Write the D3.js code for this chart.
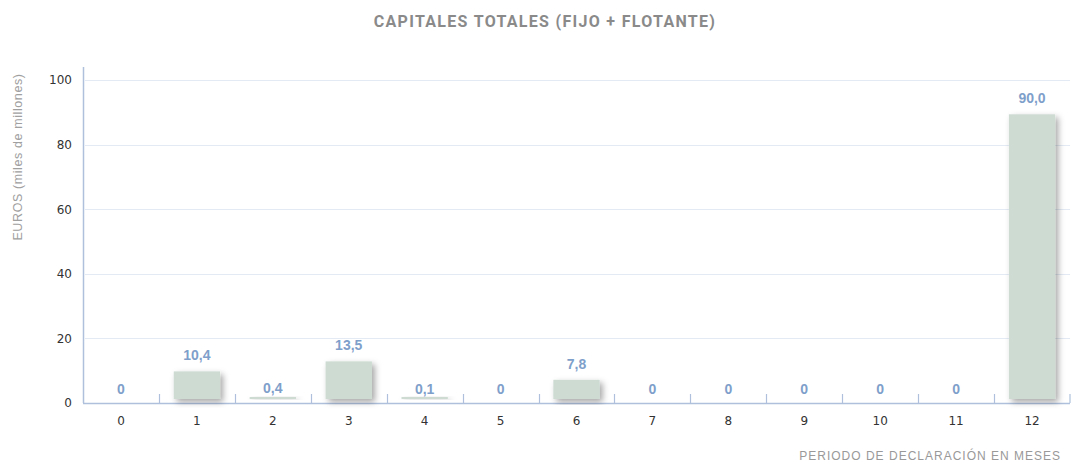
<!DOCTYPE html>
<html>
<head>
<meta charset="utf-8">
<script src="https://cdn.jsdelivr.net/npm/d3@7"></script>
<style>
    body { margin: 0; background: #ffffff; }
    svg { display: block; }
</style>
</head>
<body>
<div id="chart"></div>
<script>
// meses del periodo de declaración
const categories = ["0", "1", "2", "3", "4", "5", "6", "7", "8", "9", "10", "11", "12"];
// capitales totales, miles de millones de euros
const values = [0, 10.4, 0.4, 13.5, 0.1, 0, 7.8, 0, 0, 0, 0, 0, 90.0];
const yTicks = [0, 20, 40, 60, 80, 100];

const chartTitle = "CAPITALES TOTALES (FIJO + FLOTANTE)";
const yTitle = "EUROS (miles de millones)";
const xTitle = "PERIODO DE DECLARACIÓN EN MESES";

const sizes = {
    width: 1073,
    height: 468,
    left: 83,
    right: 1070,
    top: 80,
    bottom: 403
};

const barColor = "#cddbd2";
const labelColor = "#7f9fcb";
const axisColor = "#aec0dc";
const gridColor = "#e4eaf3";
const plainFont = "'DejaVu Sans', Verdana, sans-serif";

const svg = d3.select("#chart")
    .append("svg")
    .attr("width", sizes.width)
    .attr("height", sizes.height)
    .style("font-family", plainFont);

const defs = svg.append("defs");
const shadow = defs.append("filter")
    .attr("id", "barShadow")
    .attr("x", "-30%").attr("y", "-30%")
    .attr("width", "160%").attr("height", "160%");
shadow.append("feDropShadow")
    .attr("dx", 3)
    .attr("dy", 3)
    .attr("stdDeviation", 3)
    .attr("flood-color", "#000")
    .attr("flood-opacity", 0.35);

const xScale = d3.scaleBand()
    .domain(categories)
    .range([sizes.left, sizes.right])
    .paddingInner(0.39)
    .paddingOuter(0.195);

const bandScale = d3.scaleBand()
    .domain(categories)
    .range([sizes.left, sizes.right]);

const yScale = d3.scaleLinear()
    .domain([0, 100])
    .range([sizes.bottom, sizes.top]);

// grid
svg.append("g")
    .selectAll("line")
    .data(yTicks.filter(t => t > 0))
    .join("line")
    .attr("x1", sizes.left + 2)
    .attr("x2", sizes.right)
    .attr("y1", d => Math.round(yScale(d)) + 0.5)
    .attr("y2", d => Math.round(yScale(d)) + 0.5)
    .attr("stroke", gridColor)
    .attr("stroke-width", 1);

// y axis
const yAxis = d3.axisLeft(yScale)
    .tickValues(yTicks)
    .tickSize(0)
    .tickPadding(11);

svg.append("g")
    .attr("transform", "translate(" + sizes.left + ",0)")
    .call(yAxis)
    .call(g => g.select(".domain").remove())
    .call(g => g.selectAll("text")
        .attr("font-size", 12)
        .attr("fill", "#333")
        .style("font-family", plainFont));

svg.append("line")
    .attr("x1", sizes.left + 0.5)
    .attr("x2", sizes.left + 0.5)
    .attr("y1", 67)
    .attr("y2", sizes.bottom)
    .attr("stroke", axisColor)
    .attr("stroke-width", 1.5);

// x axis
svg.append("line")
    .attr("x1", sizes.left)
    .attr("x2", sizes.right)
    .attr("y1", sizes.bottom + 0.5)
    .attr("y2", sizes.bottom + 0.5)
    .attr("stroke", axisColor)
    .attr("stroke-width", 1.5);

svg.append("g")
    .selectAll("line")
    .data(categories.slice(1).concat(["end"]))
    .join("line")
    .attr("x1", d => d === "end" ? sizes.right : Math.round(bandScale(d)) + 0.5)
    .attr("x2", d => d === "end" ? sizes.right : Math.round(bandScale(d)) + 0.5)
    .attr("y1", sizes.bottom - 9)
    .attr("y2", sizes.bottom)
    .attr("stroke", axisColor)
    .attr("stroke-width", 1.2);

svg.append("g")
    .selectAll("text")
    .data(categories)
    .join("text")
    .attr("x", d => bandScale(d) + bandScale.bandwidth() / 2)
    .attr("y", sizes.bottom + 22)
    .attr("text-anchor", "middle")
    .attr("font-size", 12)
    .attr("fill", "#333")
    .text(d => d);

// bars
const barData = categories.map((c, i) => ({ cat: c, value: values[i] }));

svg.append("g")
    .selectAll("rect")
    .data(barData.filter(d => d.value > 0))
    .join("rect")
    .attr("x", d => xScale(d.cat))
    .attr("width", xScale.bandwidth())
    .attr("y", d => Math.min(yScale(d.value) + 2, sizes.bottom - 6))
    .attr("height", d => Math.max(sizes.bottom - 4 - (yScale(d.value) + 2), 2))
    .attr("fill", barColor)
    .attr("filter", "url(#barShadow)");

svg.append("g")
    .selectAll("text")
    .data(barData)
    .join("text")
    .attr("x", d => xScale(d.cat) + xScale.bandwidth() / 2)
    .attr("y", d => yScale(d.value) - 9)
    .attr("text-anchor", "middle")
    .attr("font-size", 14)
    .attr("font-weight", "bold")
    .attr("fill", labelColor)
    .style("font-family", "'Liberation Sans', Arial, sans-serif")
    .text(d => d.value === 0 ? "0" : d3.format(".1f")(d.value).replace(".", ","));

// titles
svg.append("text")
    .attr("x", 545)
    .attr("y", 27)
    .attr("text-anchor", "middle")
    .attr("font-size", 16)
    .attr("font-weight", "bold")
    .attr("letter-spacing", 1.3)
    .attr("fill", "#8a8a8a")
    .style("font-family", "Roboto, sans-serif")
    .text(chartTitle);

svg.append("text")
    .attr("transform", "translate(22,157) rotate(-90)")
    .attr("text-anchor", "middle")
    .attr("font-size", 12.5)
    .attr("letter-spacing", 0.6)
    .attr("fill", "#a0a0a0")
    .style("font-family", "'Liberation Sans', Arial, sans-serif")
    .text(yTitle);

svg.append("text")
    .attr("x", 1061)
    .attr("y", 460)
    .attr("text-anchor", "end")
    .attr("font-size", 12)
    .attr("letter-spacing", 1)
    .attr("fill", "#999")
    .style("font-family", "'Liberation Sans', Arial, sans-serif")
    .text(xTitle);
</script>
</body>
</html>
